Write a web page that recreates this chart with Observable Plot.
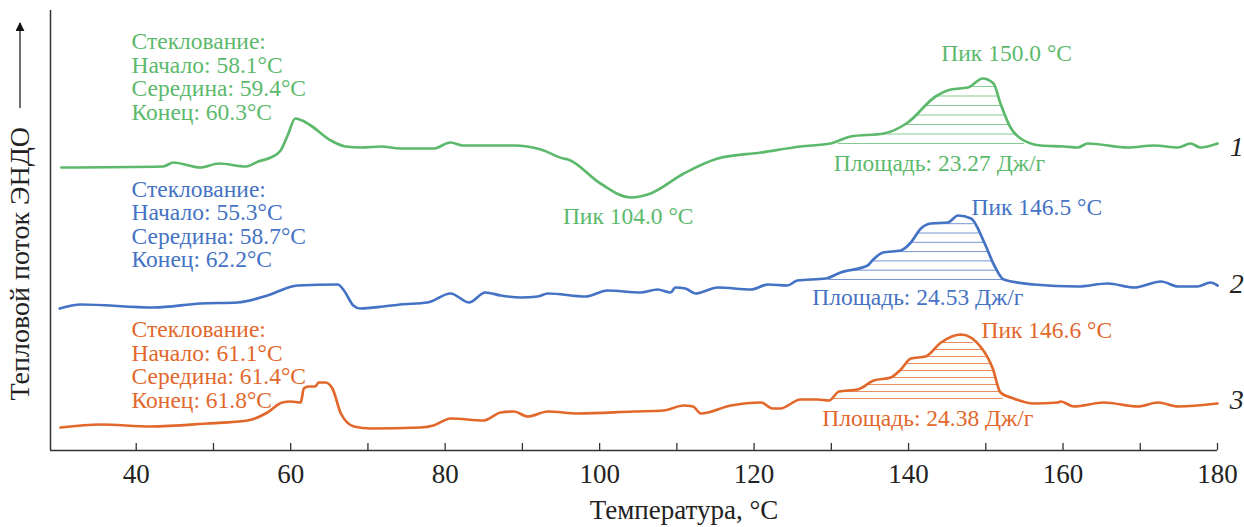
<!DOCTYPE html>
<html>
<head>
<meta charset="utf-8">
<script src="https://cdn.jsdelivr.net/npm/d3@7"></script>
<script src="https://cdn.jsdelivr.net/npm/@observablehq/plot@0.6"></script>
<style>
  html, body { margin: 0; padding: 0; background: #fff; }
  #chart { width: 1244px; height: 527px; }
</style>
</head>
<body>
<div id="chart"></div>
<script>
// ---- Data (heat flow in arbitrary units) ----
const temp1 = [30.3,43.5,44.8,48.3,50.7,54.2,55.8,57.4,58.7,59.6,60.6,61.5,62.6,65.2,67.1,69.1,71.7,74.2,78.5,80.7,82.3,88.9,92.4,95.3,95.9,100.1,104.0,106.6,110.9,115.3,120.9,126.0,129.9,132.5,136.8,139.9,143.5,145.5,147.7,149.6,151.0,151.9,153.2,154.5,157.1,160.1,161.9,163.2,168.4,171.8,174.9,176.5,177.8,180.0];
const flow1 = [283,284,288,283,287,284,289,293,300,315,332,330,325,310,304,303,304,302,302,308,305,305,301,292,291,267,253,257,277,292,298,304,307,314,317,328,354,361,363,372,367,347,323,312,305,304,303,307,303,305,303,307,303,307];

const temp2 = [30.1,32.8,42.3,48.3,53.1,57.0,60.9,66.1,66.9,68.1,69.0,72.0,74.2,77.7,80.7,83.1,85.2,87.2,89.8,92.0,93.3,98.2,101.0,105.3,107.5,109.2,109.8,111.1,112.4,115.3,119.6,121.8,124.3,125.6,129.3,131.2,134.7,135.3,136.7,139.0,140.3,141.6,142.9,145.1,146.4,148.1,149.8,151.1,152.3,156.2,161.9,165.8,169.2,172.7,174.9,177.4,179.1,180.0];
const flow2 = [142,146,143,147,148,155,165,166,160,145,142,144,146,148,157,148,158,155,153,154,157,154,160,158,161,158,163,162,157,163,161,166,165,170,172,178,185,190,198,200,208,222,227,228,235,232,208,185,171,166,164,167,163,169,164,164,168,165];

const temp3 = [30.2,35.4,41.9,49.2,54.4,57.0,58.9,60.0,61.3,61.7,62.3,63.2,63.6,64.5,65.4,66.5,68.2,70.4,76.8,78.5,80.7,85.0,87.2,88.9,90.7,93.3,97.2,104.4,108.3,110.9,112.1,113.1,117.0,120.9,122.4,123.4,126.0,128.2,129.7,131.0,133.4,135.5,137.7,139.0,140.3,142.2,144.2,146.8,149.4,150.9,151.9,153.6,156.2,159.3,159.7,161.4,165.3,169.7,172.3,174.9,180.0];
const flow3 = [23,26,24,27,30,38,48,49,48,62,64,64,68,68,62,37,24,22,23,25,32,30,38,39,34,39,37,39,40,45,44,37,45,48,42,42,51,51,50,59,61,70,73,81,92,94,108,116,103,82,58,52,47,48,49,44,48,44,48,44,47];

const seriesNames = ["1", "2", "3"];
const seriesColors = ["#5cb96c", "#4472c4", "#e2672b"];

// Peak-area (hatched) ranges: [T start, T end, baseline, hatch spacing]
const peakRanges = [[130.9, 155.0, 307, 9.5], [129.7, 152.2, 171, 9.3], [130.3, 152.3, 52, 7]];

const glassTexts = [
  "Стеклование:\nНачало: 58.1°C\nСередина: 59.4°C\nКонец: 60.3°C",
  "Стеклование:\nНачало: 55.3°C\nСередина: 58.7°C\nКонец: 62.2°C",
  "Стеклование:\nНачало: 61.1°C\nСередина: 61.4°C\nКонец: 61.8°C"
];
const glassAnchorT = [39.4, 39.4, 39.4];
const glassAnchorV = [373.5, 226, 85.5];

const peakLabels = ["Пик 150.0 °C", "Пик 104.0 °C", "Пик 146.5 °C", "Пик 146.6 °C"];
const peakLabelT = [152.7, 103.7, 156.6, 157.9];
const peakLabelV = [397, 234, 243, 120];
const peakLabelSeries = [0, 0, 1, 2];

const areaLabels = ["Площадь: 23.27 Дж/г", "Площадь: 24.53 Дж/г", "Площадь: 24.38 Дж/г"];
const areaLabelT = [144.0, 141.2, 142.5];
const areaLabelV = [287, 153, 32];

const curveNumT = [182.5, 182.5, 182.5];
const curveNumV = [303, 166, 50];

const xTicks = [40, 50, 60, 70, 80, 90, 100, 110, 120, 130, 140, 150, 160, 170, 180];
const xTickLabels = [40, 60, 80, 100, 120, 140, 160, 180];
const xDomain = [28.9, 180];
const yDomain = [0, 440];
const xLabel = "Температура, °C";
const yLabel = "Тепловой поток ЭНДО";

// ---- Build tables ----
const temps = [temp1, temp2, temp3];
const flows = [flow1, flow2, flow3];
const curves = temps.map((T, s) => T.map((t, i) => ({t, v: flows[s][i], s})));

function interp(T, V, t) {
  for (let i = 0; i < T.length - 1; i++) {
    if (t >= T[i] && t <= T[i + 1]) {
      const f = (t - T[i]) / (T[i + 1] - T[i]);
      return V[i] + f * (V[i + 1] - V[i]);
    }
  }
  return NaN;
}
function hatchSegments(s) {
  const [t0, t1, base, step] = peakRanges[s];
  const T = temps[s], V = flows[s];
  const segs = [{a: t0, b: t1, v: base, s}];
  for (let k = 1; k < 40; k++) {
    const level = base + k * step;
    let start = null, prev = t0, any = false;
    for (let t = t0; t <= t1 + 1e-9; t += 0.02) {
      const v = interp(T, V, t);
      if (v >= level && start === null) start = t;
      if (v < level && start !== null) { segs.push({a: start, b: prev, v: level, s}); start = null; any = true; }
      prev = t;
    }
    if (start !== null) { segs.push({a: start, b: prev, v: level, s}); any = true; }
    if (!any) break;
  }
  return segs;
}
const hatches = [0, 1, 2].flatMap(hatchSegments);

const font = "Liberation Serif, Times New Roman, serif";
const annSize = 23.5;
const marks = [];

// hatching
marks.push(Plot.ruleY(hatches, {y: "v", x1: "a", x2: "b", stroke: d => seriesColors[d.s], strokeWidth: 1, strokeOpacity: 0.75}));
// curves
curves.forEach((c, s) => {
  marks.push(Plot.line(c, {x: "t", y: "v", stroke: seriesColors[s], strokeWidth: 2.7, curve: "monotone-x"}));
});
// axes lines
marks.push(Plot.ruleX([xDomain[0]], {stroke: "#333", strokeWidth: 1.5}));
marks.push(Plot.ruleY([yDomain[0]], {stroke: "#333", strokeWidth: 1.5}));
// inward ticks
marks.push(Plot.ruleX(xTicks, {x: d => d, insetTop: 433, stroke: "#333", strokeWidth: 1.3}));
// tick labels
marks.push(Plot.text(xTickLabels, {x: d => d, frameAnchor: "bottom", dy: 24, text: d => String(d), fontSize: 27, fontFamily: font, fill: "#222", lineAnchor: "middle"}));
// axis labels
marks.push(Plot.text([xLabel], {frameAnchor: "bottom", dx: 50, dy: 60, fontSize: 27, fontFamily: font, fill: "#222", lineAnchor: "middle"}));
marks.push(Plot.text([yLabel], {frameAnchor: "bottom-left", dx: -30, dy: -50, rotate: -90, textAnchor: "start", lineAnchor: "middle", fontSize: 28, fontFamily: font, fill: "#222"}));

// glass transition annotations
glassTexts.forEach((txt, s) => {
  marks.push(Plot.text([txt], {x: () => glassAnchorT[s], y: () => glassAnchorV[s], textAnchor: "start", lineAnchor: "middle", lineHeight: 1.0, fontSize: annSize, fontFamily: font, fill: seriesColors[s]}));
});
// peak labels
marks.push(Plot.text(peakLabels, {x: (d, i) => peakLabelT[i], y: (d, i) => peakLabelV[i], text: d => d, fill: (d, i) => seriesColors[peakLabelSeries[i]], fontSize: annSize, fontFamily: font, lineAnchor: "middle"}));
marks.push(Plot.text(areaLabels, {x: (d, i) => areaLabelT[i], y: (d, i) => areaLabelV[i], text: d => d, fill: (d, i) => seriesColors[i], fontSize: annSize, fontFamily: font, lineAnchor: "middle"}));
// curve numbers
marks.push(Plot.text(seriesNames, {x: (d, i) => curveNumT[i], y: (d, i) => curveNumV[i], text: d => d, fontSize: 28, fontStyle: "italic", fontFamily: font, fill: "#222", lineAnchor: "middle"}));

const chart = Plot.plot({
  width: 1244,
  height: 527,
  marginLeft: 50,
  marginRight: 27,
  marginTop: 10,
  marginBottom: 77,
  x: {domain: xDomain, axis: null},
  y: {domain: yDomain, axis: null},
  color: {type: "identity"},
  style: {background: "#fff", fontFamily: font, overflow: "visible"},
  marks
});
document.getElementById("chart").appendChild(chart);

// Arrow beside the y-axis label (decoration)
const svg = d3.select(chart);
const defs = svg.append("defs");
defs.append("marker").attr("id", "arrowhead").attr("viewBox", "0 0 10 10").attr("refX", 9).attr("refY", 5)
  .attr("markerWidth", 9).attr("markerHeight", 9).attr("markerUnits", "userSpaceOnUse").attr("orient", "auto")
  .append("path").attr("d", "M0,0 L10,5 L0,10 z").attr("fill", "#111");
svg.append("line").attr("x1", 20).attr("x2", 20).attr("y1", 108).attr("y2", 23)
  .attr("stroke", "#111").attr("stroke-width", 1.2).attr("marker-end", "url(#arrowhead)");
</script>
</body>
</html>
